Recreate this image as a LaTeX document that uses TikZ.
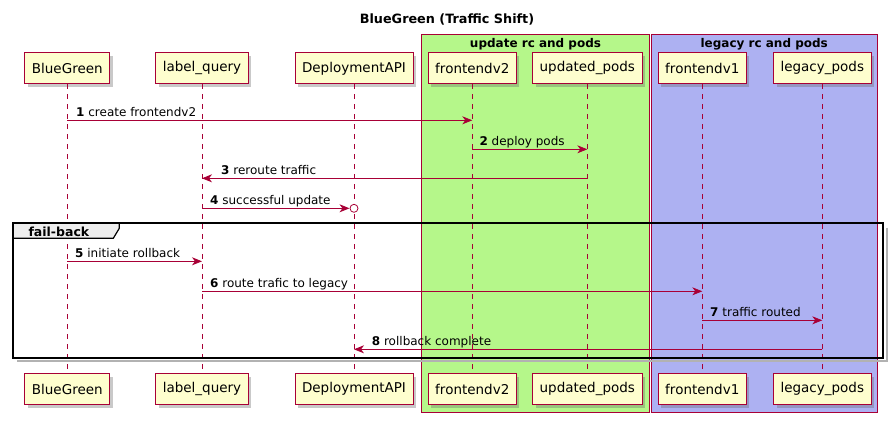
\documentclass[tikz,border=0pt]{standalone}
\usepackage{fontspec}
\setmainfont{DejaVu Sans}
\usetikzlibrary{arrows.meta,shadows}
\definecolor{pcol}{HTML}{A80036}
\definecolor{pfill}{HTML}{FEFECE}
\definecolor{gfill}{HTML}{B5F78A}
\definecolor{bfill}{HTML}{ADB1F2}
\definecolor{tabfill}{HTML}{EEEEEE}
\begin{document}
\begin{tikzpicture}[x=1pt,y=-1pt,
  pbox/.style={draw=pcol, fill=pfill, line width=0.9pt, minimum height=31pt, inner xsep=7pt, inner ysep=0pt,
    font=\fontsize{13.5}{16}\selectfont,
    drop shadow={shadow xshift=3pt, shadow yshift=-3pt, opacity=0.35, fill=black!60}},
  life/.style={draw=pcol, line width=0.7pt, dash pattern=on 5pt off 5pt},
  msg/.style={draw=pcol, line width=0.8pt, -{Stealth[length=10pt,width=8pt,inset=3pt]}},
  lbl/.style={font=\fontsize{12}{14}\selectfont, anchor=base west, inner sep=0pt},
  grp/.style={draw=pcol, line width=0.8pt},
  gtitle/.style={font=\bfseries\fontsize{12}{14}\selectfont, anchor=base}
]
\useasboundingbox (0,0) rectangle (894,424);
\fill[white] (0,0) rectangle (894,424);
% title
\node[font=\bfseries\fontsize{12.8}{15}\selectfont] (title) at (447,19) {BlueGreen (Traffic Shift)};
% groups
\draw[grp, fill=gfill] (421.3,34.3) rectangle (649.7,412.7);
\draw[grp, fill=bfill] (651,34.3) rectangle (877.3,412.7);
\node[gtitle] (g1) at (535.5,47) {update rc and pods};
\node[gtitle] (g2) at (764.2,47) {legacy rc and pods};
% participants
\node[pbox] (bgT) at (67.3,68.3) {BlueGreen};
\node[pbox] (lqT) at (202,68.3) {label\_query};
\node[pbox] (daT) at (354,68.3) {DeploymentAPI};
\node[pbox] (f2T) at (472.3,68.3) {frontendv2};
\node[pbox] (upT) at (587.3,68.3) {updated\_pods};
\node[pbox] (f1T) at (702.3,68.3) {frontendv1};
\node[pbox] (lpT) at (822.3,68.3) {legacy\_pods};
\node[pbox] (bgB) at (67.3,389) {BlueGreen};
\node[pbox] (lqB) at (202,389) {label\_query};
\node[pbox] (daB) at (354,389) {DeploymentAPI};
\node[pbox] (f2B) at (472.3,389) {frontendv2};
\node[pbox] (upB) at (587.3,389) {updated\_pods};
\node[pbox] (f1B) at (702.3,389) {frontendv1};
\node[pbox] (lpB) at (822.3,389) {legacy\_pods};
% lifelines
\foreach \p in {bg,lq,da,f2,up,f1,lp}{
  \draw[life] (\p T.south) -- (\p B.north);
}
% fail-back frame
\draw[black!30, line width=2.5pt] (886.8,227.5) -- (886.8,361.2) -- (17,361.2);
\draw[black, line width=2pt] (13.3,223.3) rectangle (883.3,357.7);
\draw[black, line width=1.2pt, fill=tabfill] (13.3,223.3) -- (119.3,223.3) -- (119.3,228.3) -- (113.3,238.3) -- (13.3,238.3) -- cycle;
\node[font=\bfseries\fontsize{12.5}{14}\selectfont, anchor=base west, inner sep=0pt] (fb) at (28.3,236) {fail-back};
% message coordinates
\coordinate (m1a) at (67.3,120.3);  \coordinate (m1b) at (472.3,120.3);
\coordinate (m2a) at (472.3,149.3); \coordinate (m2b) at (587.3,149.3);
\coordinate (m3a) at (587.3,178.3); \coordinate (m3b) at (202,178.3);
\coordinate (m4a) at (202,208.3);   \coordinate (m4b) at (354,208.3);
\coordinate (m5a) at (67.3,261.3);  \coordinate (m5b) at (202,261.3);
\coordinate (m6a) at (202,291.3);   \coordinate (m6b) at (702.3,291.3);
\coordinate (m7a) at (702.3,320.3); \coordinate (m7b) at (822.3,320.3);
\coordinate (m8a) at (822.3,349.3); \coordinate (m8b) at (354,349.3);
% messages
\draw[msg] (m1a) -- (m1b);
\draw[msg] (m2a) -- (m2b);
\draw[msg] (m3a) -- (m3b);
\draw[msg, shorten >=4.5pt] (m4a) -- (m4b);
\draw[draw=pcol, line width=0.8pt, fill=white] (m4b) circle (4pt);
\draw[msg] (m5a) -- (m5b);
\draw[msg] (m6a) -- (m6b);
\draw[msg] (m7a) -- (m7b);
\draw[msg] (m8a) -- (m8b);
% labels
\node[lbl] (l1) at (76,116) {\textbf{1} create frontendv2};
\node[lbl] (l2) at (479.3,145) {\textbf{2} deploy pods};
\node[lbl] (l3) at (221,174) {\textbf{3} reroute traffic};
\node[lbl] (l4) at (210,204) {\textbf{4} successful update};
\node[lbl] (l5) at (75,257) {\textbf{5} initiate rollback};
\node[lbl] (l6) at (210,287) {\textbf{6} route trafic to legacy};
\node[lbl] (l7) at (710,316) {\textbf{7} traffic routed};
\node[lbl] (l8) at (371.7,345) {\textbf{8} rollback complete};
\end{tikzpicture}
\end{document}
